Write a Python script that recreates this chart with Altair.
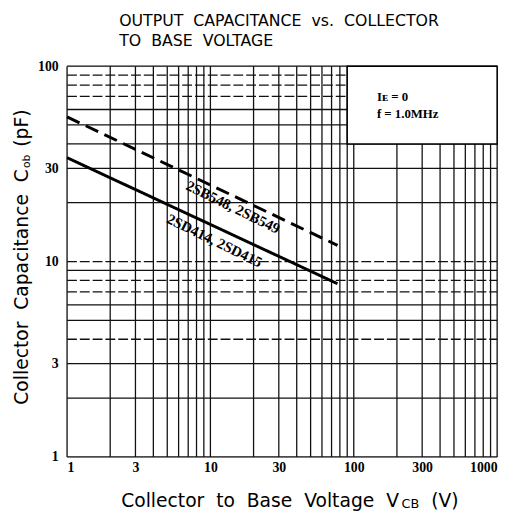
import altair as alt
import pandas as pd

W, H = 437, 397

# ---- data ----
x_grid = [1, 2, 3, 4, 5, 6, 7, 8, 9, 10, 20, 30, 40, 50, 60, 70, 80, 90, 100,
          200, 300, 400, 500, 600, 700, 800, 900, 1000]
y_grid_solid = [1, 2, 3, 5, 6, 9, 20, 30, 40, 50, 60, 100]
y_grid_dashed = [4, 7, 8, 10, 70, 80, 90]
x_ticks = [1, 3, 10, 30, 100, 300, 1000]
y_ticks = [1, 3, 10, 30, 100]

series_names = ["2SB548, 2SB549", "2SD414, 2SD415"]
vcb_2sb = [1, 77]
cob_2sb = [55, 12.1]
vcb_2sd = [1, 77]
cob_2sd = [34, 7.7]

label_text = ["2SB548,\u00a02SB549", "2SD414,\u00a02SD415"]
label_v = [14.4, 10.7]
label_c = [19.0, 12.8]

cond_text = ["I\u1d07\u00a0=\u00a00", "f\u00a0=\u00a01.0MHz"]
cond_v = [145, 145]
cond_c = [66.7, 54.1]

box_v = [90, 1000]
box_c = [40, 100]

# ---- tables ----
df_xg = pd.DataFrame({"v": x_grid})
df_ygs = pd.DataFrame({"c": y_grid_solid})
df_ygd = pd.DataFrame({"c": y_grid_dashed})
df_lines = pd.DataFrame({
    "v": vcb_2sb + vcb_2sd,
    "c": cob_2sb + cob_2sd,
    "s": [series_names[0]] * len(vcb_2sb) + [series_names[1]] * len(vcb_2sd),
})
df_lab = pd.DataFrame({"v": label_v, "c": label_c, "t": label_text})
df_cond = pd.DataFrame({"v": cond_v, "c": cond_c, "t": cond_text})
df_box = pd.DataFrame({"v": [box_v[0]], "v2": [box_v[1]], "c": [box_c[0]], "c2": [box_c[1]]})
dummy = pd.DataFrame({"d": [0]})

xs = alt.Scale(type="log", domain=[1, 1000], nice=False)
ys = alt.Scale(type="log", domain=[1, 100], nice=False)

lab_font = dict(labelFont="Liberation Serif", labelFontWeight="bold",
                labelFontSize=14, labelColor="black")
xax = alt.Axis(values=x_ticks, format="d", title=None, grid=False, ticks=False,
               domain=False, labelPadding=4, labelFlush=True, **lab_font)
yax = alt.Axis(values=y_ticks, format="d", title=None, grid=False, ticks=False,
               domain=False, labelPadding=9, **lab_font)

X = lambda f: alt.X(f, type="quantitative", scale=xs, axis=xax)
Y = lambda f: alt.Y(f, type="quantitative", scale=ys, axis=yax)

vgrid = alt.Chart(df_xg).mark_rule(color="#111", strokeWidth=1.3).encode(
    x=X("v"), y=alt.value(0), y2=alt.value(H))
hgrid_s = alt.Chart(df_ygs).mark_rule(color="#111", strokeWidth=1.3).encode(
    y=Y("c"), x=alt.value(0), x2=alt.value(W))
hgrid_d = alt.Chart(df_ygd).mark_rule(color="#111", strokeWidth=1.3,
                                       strokeDash=[10, 3]).encode(
    y=Y("c"), x=alt.value(0), x2=alt.value(W))

box = alt.Chart(df_box).mark_rect(fill="white", stroke="black", strokeWidth=1.5).encode(
    x=X("v"), x2="v2", y=Y("c"), y2="c2")

lines = alt.Chart(df_lines).mark_line(color="black", strokeWidth=3).encode(
    x=X("v"), y=Y("c"),
    strokeDash=alt.StrokeDash("s:N", scale=alt.Scale(domain=series_names,
                                                      range=[[14, 7], [1, 0]]),
                              legend=None),
    detail="s:N")

labels = alt.Chart(df_lab).mark_text(font="Liberation Serif", fontWeight="bold",
                                     fontSize=15, angle=26, color="black").encode(
    x=X("v"), y=Y("c"), text="t:N")

cond = alt.Chart(df_cond).mark_text(font="Liberation Serif", fontWeight="bold",
                                    fontSize=13, align="left", baseline="alphabetic",
                                    color="black").encode(
    x=X("v"), y=Y("c"), text="t:N")

# ---- text titles (DejaVu Sans advance widths, em) ----
DV = {' ': 0.318, '\u00a0': 0.318, '(': 0.390, ')': 0.390, 'C': 0.698, 'B': 0.686,
      'V': 0.684, 'F': 0.575, 'p': 0.635, 'o': 0.612, 'l': 0.278, 'e': 0.615,
      'c': 0.550, 't': 0.392, 'r': 0.411, 'a': 0.613, 's': 0.521, 'g': 0.635,
      'i': 0.278, 'n': 0.634, 'b': 0.635}


def tw(s, size):
    return sum(DV.get(ch, 0.6) for ch in s) * size


NB = "\u00a0"


def txt(s, x, y, size, angle=0, font="DejaVu Sans"):
    return alt.Chart(dummy).mark_text(text=s, font=font, fontSize=size, align="left",
                                      baseline="alphabetic", angle=angle,
                                      color="black").encode(
        x=alt.value(x), y=alt.value(y))


# x title
xt1 = f"Collector{NB*2}to{NB*2}Base{NB*2}Voltage{NB*2}V"
x0, yb = 55, 448
x1 = x0 + tw(xt1, 19) + 1
x2 = x1 + tw("CB", 13) + tw(NB * 2, 19)
xtitle = [txt(xt1, x0, yb, 19), txt("CB", x1, yb + 1, 13), txt("(V)", x2, yb, 19)]

# y title (rotated)
yt1 = f"Collector{NB*2}Capacitance{NB*2}C"
ybx, y0 = -40, 344
y1 = y0 - tw(yt1, 19) - 1
y2 = y1 - tw("ob", 11) - tw(NB, 19) * 1.3
ytitle = [txt(yt1, ybx, y0, 19, 270), txt("ob", ybx + 2, y1, 11, 270),
          txt("(pF)", ybx, y2, 19, 270)]

# main title
mt = [txt(f"OUTPUT{NB*2}CAPACITANCE{NB*2}vs.{NB*2}COLLECTOR", 53, -41, 16),
      txt(f"TO{NB*2}BASE{NB*2}VOLTAGE", 53, -20, 16)]

chart = alt.layer(vgrid, hgrid_s, hgrid_d, box, lines, labels, cond,
                  *xtitle, *ytitle, *mt).properties(
    width=W, height=H,
    autosize=alt.AutoSizeParams(type="none"),
    padding={"left": 60, "top": 55, "right": 8, "bottom": 58},
).configure_view(stroke="black", strokeWidth=2.5).configure(background="white")

chart.save("out.html", embed_options={"renderer": "svg", "actions": False})
